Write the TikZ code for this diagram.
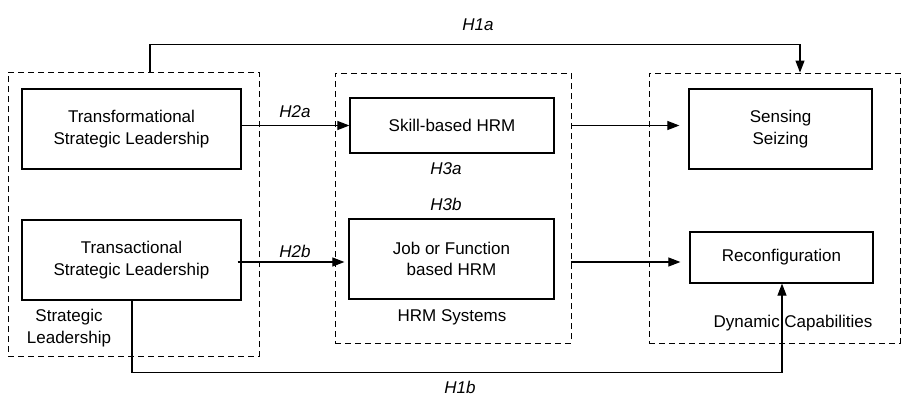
\documentclass[tikz,border=0pt]{standalone}
\usepackage{fontspec}
\setmainfont{Liberation Sans}
\usepackage{tikz}
\usetikzlibrary{arrows.meta}
\tikzstyle{boxStyle}=[shape = rectangle, draw, line width = 1.2pt, inner sep = 0pt, align = center]
\tikzstyle{groupStyle}=[shape = rectangle, draw, line width = 0.9pt, inner sep = 0pt, dash pattern = on 6pt off 4pt]

\begin{document}
\begin{tikzpicture}[x = 1pt, y = -1pt, font = \fontsize{17}{21.5}\selectfont]
\tikzstyle{hypStyle}=[font = \fontsize{17}{21.5}\selectfont\itshape, inner sep = 1pt]
\tikzstyle{arrowStyle}=[line width = 1.1pt, -{Triangle[length=12pt, width=9pt]}]
\useasboundingbox (0,0) rectangle (902,397);
\node[groupStyle, minimum width = 251pt, minimum height = 284pt] (slgrp) at (133.5,214) {};
\node[groupStyle, minimum width = 236pt, minimum height = 270pt] (hrmgrp) at (453,208) {};
\node[groupStyle, minimum width = 251pt, minimum height = 270pt] (dcgrp) at (774.5,208) {};
\node[boxStyle, minimum width = 219pt, minimum height = 80pt] (tfl) at (131.5,129) {Transformational\\Strategic Leadership};
\node[boxStyle, minimum width = 219pt, minimum height = 80pt] (tsl) at (131.5,260) {Transactional\\Strategic Leadership};
\node[boxStyle, minimum width = 204pt, minimum height = 55pt] (skill) at (452,125.5) {Skill-based HRM};
\node[boxStyle, minimum width = 205pt, minimum height = 80pt] (job) at (451.5,259) {Job or Function\\based HRM};
\node[boxStyle, minimum width = 183pt, minimum height = 80pt] (sense) at (780.5,129) {Sensing\\Seizing};
\node[boxStyle, minimum width = 183pt, minimum height = 51pt] (recon) at (781.5,257.5) {Reconfiguration};
\node[align = center] (sllbl) at (69,328) {Strategic\\Leadership};
\node (hrmlbl) at (452,317) {HRM Systems};
\node (dclbl) at (793,323) {Dynamic Capabilities};
\node[hypStyle] (h1a) at (478,25) {H1a};
\node[hypStyle] (h2a) at (295,112) {H2a};
\node[hypStyle] (h2b) at (295,251) {H2b};
\node[hypStyle] (h3a) at (446,169) {H3a};
\node[hypStyle] (h3b) at (446,204) {H3b};
\node[hypStyle] (h1b) at (460,387) {H1b};
\draw[arrowStyle] ([xshift=16.5pt]slgrp.north) -- ++(0,-27) -| ([xshift=25.5pt]dcgrp.north);
\draw[arrowStyle] (tfl.east |- skill.west) -- (skill.west);
\draw[arrowStyle, shorten > = 4pt] ([xshift=-4pt, yshift=-2pt]tsl.east) -- ([yshift=-2pt]tsl.east -| job.west);
\draw[arrowStyle, shorten > = 9pt] (hrmgrp.east |- skill.east) -- (sense.west |- skill.east);
\draw[arrowStyle, shorten > = 9pt] ([yshift=-3pt]job.east -| hrmgrp.east) -- ([yshift=-3pt]job.east -| recon.west);
\draw[arrowStyle] ([xshift=0.5pt]tsl.south) -- ++(0,72) -| ([xshift=0.5pt]recon.south);
\end{tikzpicture}
\end{document}
